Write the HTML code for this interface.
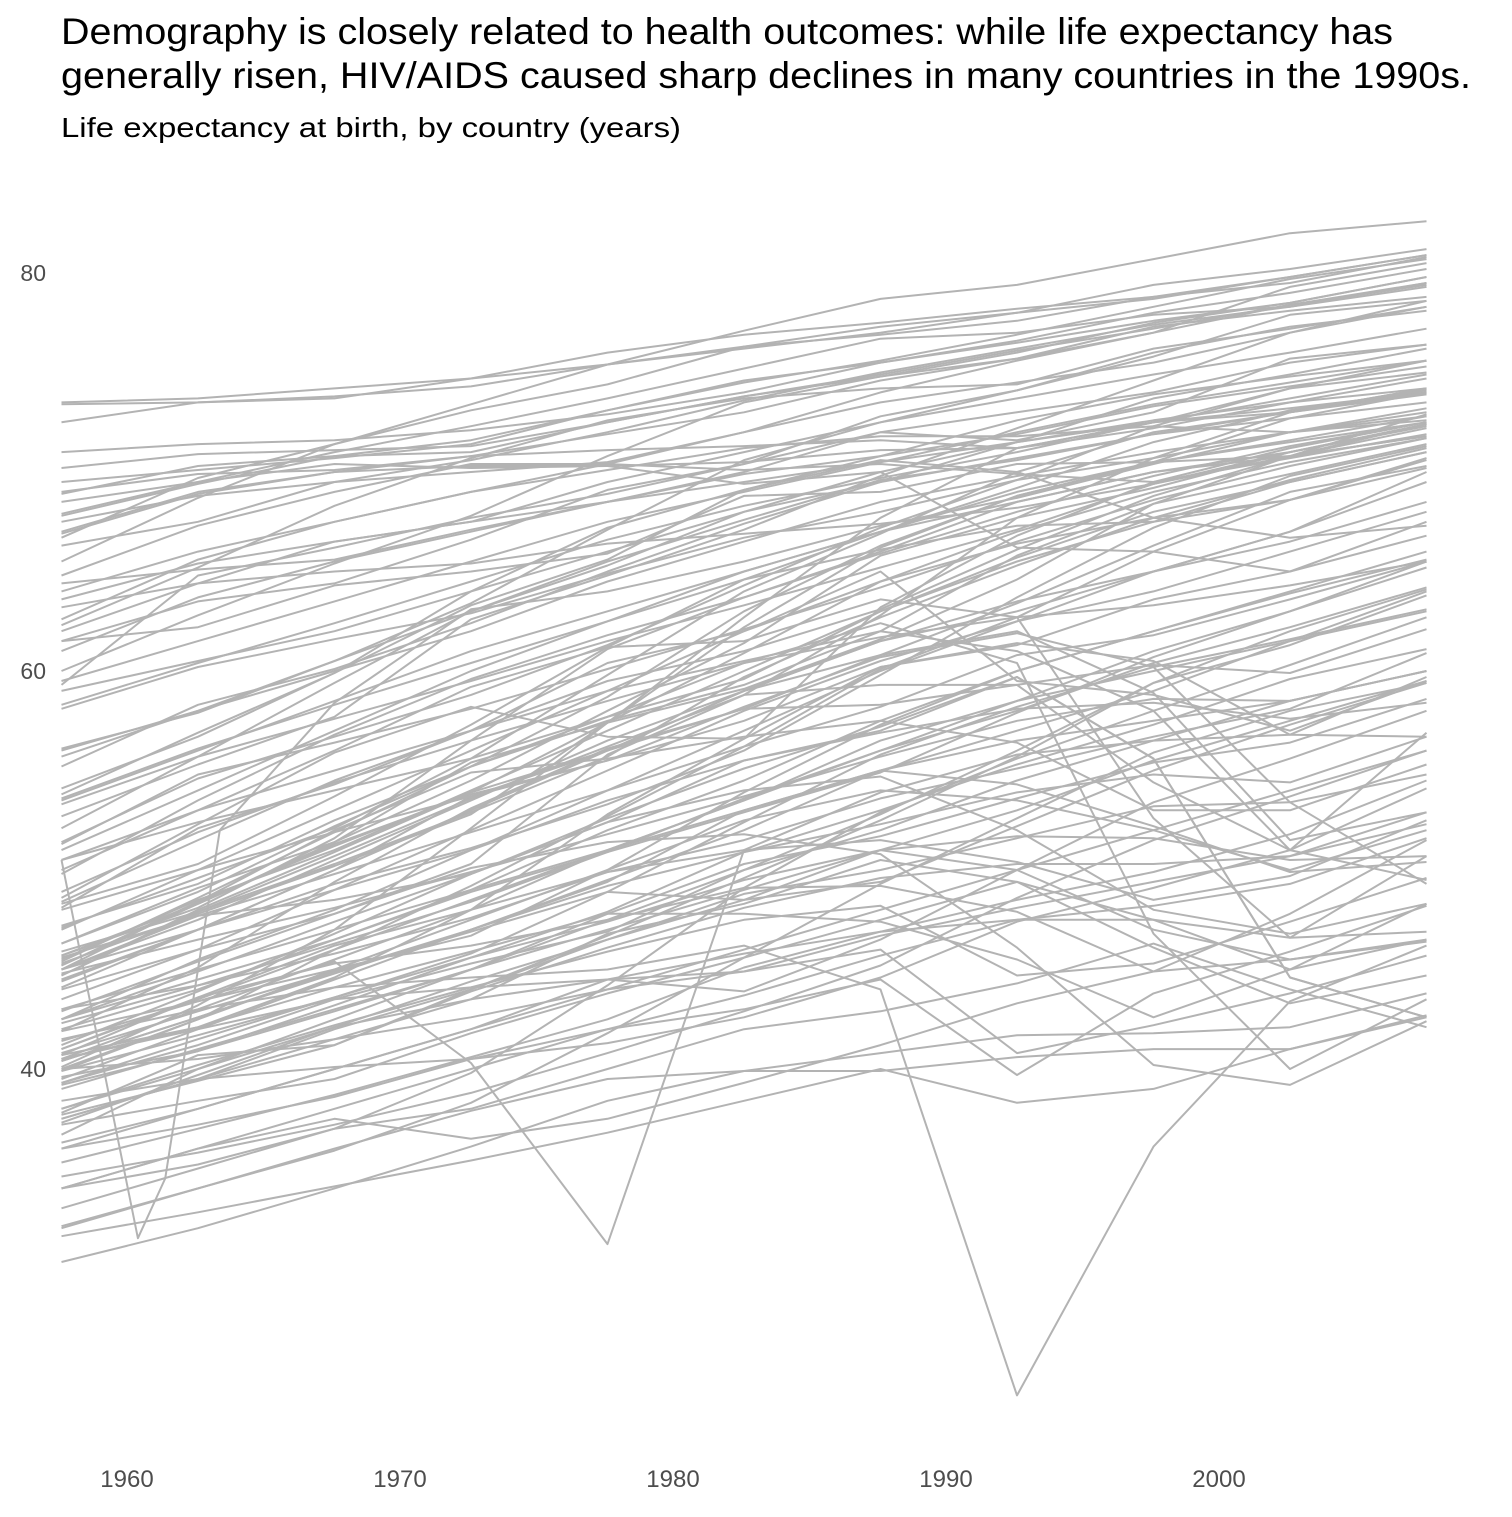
<!DOCTYPE html>
<html>
<head>
<meta charset="utf-8">
<style>
  html,body{margin:0;padding:0;background:#fff;}
  body{width:1512px;height:1512px;overflow:hidden;font-family:"Liberation Sans",Arial,sans-serif;}
  svg text{font-family:"Liberation Sans",Arial,sans-serif;}
</style>
</head>
<body>
<svg id="chart" width="1512" height="1512" viewBox="0 0 1512 1512">
  <text x="61" y="44" font-size="37" textLength="1332" lengthAdjust="spacingAndGlyphs" fill="#000">Demography is closely related to health outcomes: while life expectancy has</text>
  <text x="61" y="88" font-size="37" textLength="1410" lengthAdjust="spacingAndGlyphs" fill="#000">generally risen, HIV/AIDS caused sharp declines in many countries in the 1990s.</text>
  <text x="61" y="137" font-size="28" textLength="620" lengthAdjust="spacingAndGlyphs" fill="#000">Life expectancy at birth, by country (years)</text>
  <g id="lines"></g>
  <g id="yaxis"></g>
  <g id="xaxis"></g>
</svg>
<script>
const years = [1957,1962,1967,1972,1977,1982,1987,1992,1997,2002,2007];
const chinaYears = [1957,1959.8,1960.8,1962.8,1967,1972,1977,1982,1987,1992,1997,2002,2007];
const chinaValues = [50.5,31.5,34.5,52,58.4,63.1,64,65.5,67.3,68.7,70.4,72,73];
const xTicks = [1960,1970,1980,1990,2000];
const yTicks = [40,60,80];
const lifeExp = [
[65.5,68.7,71.4,73.4,75.4,77.1,78.7,79.4,80.7,82,82.6],
[73.5,73.7,74.2,74.7,76,76.9,77.5,78.2,78.8,79.5,80.8],
[73.4,73.5,73.8,74.3,75.4,76.3,77.3,78,78.7,79.8,80.9],
[72.5,73.5,73.7,74.7,75.4,76.2,77,78,79.4,80.2,81.2],
[71,71.4,71.6,72.1,72.9,74,75.5,76.5,77.6,78.5,79.8],
[70.2,70.9,71.1,71.3,72.5,73.8,74.9,76.1,77.2,78.4,79.4],
[69.5,70.1,70.7,71.4,73.1,74.6,75.5,76.6,78,79,80.2],
[69,69.9,70.1,70.8,71.9,73,74.6,75.7,77,78.4,79.5],
[68.9,70.3,70.8,71,72.5,73.8,74.8,76,77.5,78.5,79.8],
[67.5,68.8,69.5,70,70.5,72,74,75.6,77,79.3,80.5],
[66.9,68.9,70,70.8,71.1,71.3,71.6,71.2,72.2,73.5,74.7],
[68.5,69.5,70.4,70.2,70.3,70.5,71.1,71.2,72.5,73.2,74],
[67,69,70,70.3,70.3,69.4,70,66.2,66,65,67.5],
[64.8,67.3,69,70.4,70.4,70.1,70.4,69.9,69.5,71.2,72.5],
[66.3,67.5,69.5,70.6,72,73.6,75,76.2,77.4,78.3,79.3],
[64,66,67.5,69,70.4,72,73.5,74.5,75.5,77,78.3],
[62,64.4,66.5,67.5,69.5,71,72.5,73.7,74.9,76,77.2],
[61,63.7,65.5,67,68.5,70,72,73,74,75.5,76.4],
[59.5,61.5,63.5,65.5,67.5,69,70.5,72,73.4,74.5,75.6],
[63.6,65.4,66.5,67.5,68.5,69.5,70.5,71.5,72.6,73.5,74.2],
[59,60.5,62,64,66,68,70,71.5,72.5,73,74],
[58.3,60.4,62.4,64.5,66.6,68.3,69.7,71,72.5,73.7,74.9],
[55.7,58,60.5,63,65.5,67.6,69.6,70.6,71.9,72.7,73.5],
[56,58,60,62,64.5,66.5,68.5,69.8,71,72,73.2],
[53.5,56,58.5,61,63,65,67,68.5,70,71,72.4],
[51,54,57,60,62.5,65,67,69,70.5,71.5,72.5],
[47,50,53,56,59,62,64.5,67,69,70.5,71.7],
[45.5,48.5,51,54,57,60,63,65.5,67.5,69.5,71],
[45,47.5,50.5,53.5,56.5,59,61.5,63,65,67,70],
[44.5,47,50,53,56,59,61.5,63.5,65,66.5,68.5],
[43.5,46,49,52,55,58,60.5,62.5,64,66,68],
[42.5,45.5,48,51,54,57,60,62.5,65,67,69.5],
[42,44,46.5,49,52,54.5,57.5,60,62,64,66],
[40.5,43,45.5,48,51,53.5,56.5,58.5,61,63,65.5],
[39.5,42,44.5,47,49.5,52,55,57,59,61.5,64],
[41,43.5,46,48.5,51,53.5,56,58.5,60,61.5,63],
[43,45,47,49,51,53,55,56.5,57.5,58.5,60],
[38,40,42.5,45,47.5,50,52,54.5,56.5,58.5,60],
[37.5,39.5,42,44,46.5,48.5,51,53,55.5,57.5,59.5],
[36,38,40,42,44,46,48,50,52,54,56],
[50.5,53,55,57,59,60.5,62,61,58,51,49.5],
[50,53,56,59.2,61.2,61.5,63.6,62.7,52.6,46.6,50.7],
[50.5,52.4,54,55.6,57.7,60.4,62.4,60.4,46.8,40,43.5],
[45,47,49,51,53.5,55.5,57,59.7,55.6,44.6,42.6],
[45,47.7,48.5,49.8,52.6,55.1,57.2,59.7,55.6,44.6,42.6],
[44,46,47.8,50.1,51.4,51.8,50.8,46.1,40.2,39.2,42.4],
[39,41,43,45,47,49,51,50,47,45.5,46.5],
[40,42.5,45,47.5,50,52.5,54,53.5,52,50,52],
[44.7,47.9,50.7,53.6,56.2,58.8,59.3,59.3,54.4,51,54.1],
[41,43.6,45.3,46.2,47.5,49.1,49.2,47.9,44.9,47.8,51.5],
[37.2,38.4,39.5,41.8,43.8,45.6,47.5,49.4,47.5,45,48.3],
[33,35,37,38,40,42,42.9,44.3,46.3,44,42.1],
[32,34,36,37.9,39.5,39.9,39.9,40.6,41,41,42.7],
[31.6,32.8,34.1,35.4,36.8,38.4,40,38.3,39,41,42.6],
[30.3,32,34,36.1,38.4,39.9,40.8,41.7,41.8,42.1,43.8],
[41.5,43,44.1,44.6,45,46.2,44,23.6,36.1,43.4,46.2],
[41.4,43.4,45.4,40.3,31.2,51,53.9,55.8,56.5,56.8,59.7],
[34,36,37.5,36.5,37.5,39.3,41.2,43.3,44.9,45.5,46.4],
[40,40.5,41.5,42.6,44,44.9,46,40.8,42.2,43.8,45.7],
[34,36,38,40,42,43,44.5,39.7,43.8,45.9,48.2],
[36.7,40,42.1,43.5,44.5,44.9,46.7,48.1,49.4,50.7,52.9],
[36.3,38,40,42,44.5,45.8,46.9,47.5,47.5,46.6,46.9],
[40.7,42.1,44.1,45.9,47.8,47.8,47.4,45.5,42.6,45,46.5],
[42.5,44.9,47.4,49.8,52.4,54,54.7,52,48,46.8,48.3],
[40.4,42.6,44.8,47,49.4,53,55,54.3,52.2,49.9,50.4],
[37.5,39.5,41.5,43.5,46.8,48.3,50.5,49.4,46.1,43.3,44.7],
[45.2,48.4,51.2,53.9,56,59,60.8,62,58.9,51.5,52.9],
[44.8,46.5,48.1,49.9,51.8,53.7,55.7,57.5,58.6,58.5,60],
[40.5,42.1,44.6,48,52.8,56.6,60.2,61.4,60.5,56.8,56.7],
[45,48.4,52,54.9,55.6,56.7,57.5,56.4,53,53,55.3],
[39.9,41.7,43.6,45.6,47.4,49.5,51,51.7,51.6,50.5,50.7],
[36,37.2,38.6,40.5,42,43.7,45.7,47.5,48.2,49.3,51.6],
[48.4,51.5,54.5,57,60.4,62,65,59.5,58.8,57,59.5],
[40.7,43.6,46.2,48,49.9,51.5,53.6,55.1,56.7,58.1,60.9],
[34,35.2,37,39.8,44.2,49.1,52.9,55.6,58,60.3,62.7],
[39.3,41.2,43.5,45.3,46.9,50,52.8,56,59.4,62,64.1],
[45.6,47.7,49.8,51.9,54,56.2,58.2,60.8,61.8,63.6,65.5],
[41.9,43.4,45,46.7,50,53.9,57.3,60,62,63.9,65.6],
[39.6,40.9,42.9,45,47.8,50.3,51.7,53.6,55.4,56.4,58.6],
[54.1,56.7,59.9,64,67.2,69.1,70.6,70,67.7,66.7,67.3],
[45.2,48.3,51.3,53.8,55.5,57.5,60.2,61.3,63.6,65,66.8],
[40.8,42.9,44.9,46.9,48.9,48.5,49.4,52.2,55,57.3,59.4],
[43,44.2,45.8,47.6,49.9,51,51.5,50.4,48.5,49.7,52.5],
[35.3,37,38.7,40.6,42.5,45.1,46.9,48.5,49.9,51.8,54.5],
[38.4,39.5,40.1,40.5,41.3,42.6,44.6,47.4,49.1,51,56.9],
[37.8,40.7,41.2,43.9,46.1,48.1,49.6,50.3,50.3,50.7,52.3],
[39.3,41.5,43.6,45.8,48.9,52.4,55.8,58.2,60.2,61.6,63.1],
[44.4,47,49.3,51.1,53.3,56,59.8,63.7,67.2,69.8,71.3],
[45.9,47.9,50.3,52.9,55.7,59.7,62.7,65.3,67.7,69.6,71.2],
[39.9,42.5,46,49.2,52.7,56.2,60.1,62.7,66,68.6,70.7],
[42.9,45.4,47.8,50.3,55.8,58.8,62.8,67.7,70.7,73,74.2],
[48.1,52.1,54.3,57,59.5,61,63.1,66.1,68.8,70.8,71.8],
[53.3,55.7,57.6,59.5,61.5,63.3,65.2,67.1,69.4,71,72.4],
[55.2,58.3,60.1,62.4,65,67.4,69.5,71.5,73.7,74.9,76.2],
[46.3,49.1,51.4,55.4,57.4,59.1,61.6,64.6,68.4,69.9,71.4],
[44.1,47,50,53.7,56,58.1,60.8,63.4,66.3,69,70.3],
[45.4,48.6,51.9,55.2,57.5,59.3,62,65.8,68.4,70.8,72.9],
[44.7,48,50.9,53.9,57.4,60.9,64.5,66.4,67.7,68.6,70.2],
[47.2,49.3,52.5,55.2,57.7,59.6,63,65.7,68,69.5,71],
[46.3,48.9,52.2,55.2,58.7,63,66.3,68.8,70.5,71.6,72.8],
[52.7,55.3,57.7,62.6,64.8,67.1,69.8,72.2,74.6,77,78.6],
[53.6,56.1,58.3,60.4,62.5,64.6,66.1,67.3,67.5,68.6,70.6],
[51.3,54.8,56.4,58.1,60.1,62.1,64.2,66.5,68.6,70.3,71.7],
[52.1,55.7,59.4,63,65.3,68,69.5,70.7,71.9,73,74.2],
[56.1,57.9,60.5,63.4,67.1,70.6,72.5,74.1,75.8,77.9,78.6],
[62.6,65.6,67.5,69,70.1,71.2,71.8,71.8,72.3,72,72.6],
[59.3,64.8,66.2,67.7,68.9,70.4,72,71.6,73,75.7,76.4],
[61.5,62.2,64.3,65,65.9,68.8,69,70.4,70.5,70.8,72.4],
[64.4,65.1,65.6,67.1,68.5,69.9,70.8,71.9,73.3,74.3,75.3],
[67.8,69.4,70.8,71.6,73.1,74.5,75.6,76.9,78.3,79.7,80.7],
[62.3,65.2,68.3,70.7,72.6,73.7,74.2,74.4,76.2,77.2,78.3],
[60,62.8,65.4,67.8,70.8,73.5,74.8,75.7,77.3,78.1,78.8],
[61.5,63.5,64.4,66.6,69.1,70.4,72.8,74.1,76,77.3,78.1],
[66.7,69.7,71.4,73.1,74.4,76.3,76.9,77.6,78.8,79.8,80.9],
[67.9,69.5,71,72.3,73.7,75.2,76.7,77,77.9,78.3,79.5],
[53.8,56.9,59.9,63.3,65.6,69.1,70.8,72.6,73.9,74.8,75.6],
[58.1,60.2,61.6,62.9,64.9,66.7,68,69.6,70.7,72,72.8],
[47.1,49.6,52.1,55.6,59.8,64,66.9,70,72,73,73.9],
[45.7,48.3,51.4,54.5,58,61.4,65.8,67.7,69.2,71,72.3],
[48,50,51.9,53.7,55.5,58.2,60.7,61.9,60.2,53.4,49.3],
[37.7,39.4,41.2,44,46.7,49.6,52.5,55.7,59.4,61.3,63.8],
[41.9,45.1,49.4,53.1,56.1,58.1,58.3,59.3,60.3,59.9,62.1],
[39.2,40.9,43.2,45.6,47.9,50.9,53,55.3,57.3,59.6,61.1],
[32.1,34,35.9,38.3,41.8,45.6,49.3,52.6,55.9,58,59.4],
[34.6,35.8,37.2,38.8,40.8,42.9,45.2,48.6,51.5,53.7,56],
[42.3,44.2,46.3,48.4,50.9,53.6,56,58,60.4,62.2,64.2],
[37.3,39.7,42.1,44.4,46.5,48.8,50,51.6,53.2,53.4,54.8],
[38,40.2,42.2,44.1,44.5,43.9,46.5,50,53.4,55.6,58],
[40.5,42,43.5,44.1,45.9,47.5,48.2,44.7,45.3,47.4,49.6],
[40.4,42.6,44.9,47,49.2,50.9,52.3,53.9,54.8,54.4,56.7],
[41.2,43.9,46.8,49.8,52.4,55.5,56.9,58.1,58.4,57.6,58.4],
[42.5,44.5,46.5,48.9,50.9,52.9,54.9,57.9,60.7,63,65.2],
[48.9,51.9,54.4,56.5,58.5,60.4,61.7,62.7,63.3,64.3,65.5],
[45.3,47.8,50.2,52.8,57.4,62.2,66.2,68.8,70.5,72.7,74],
[40.1,43.2,47,52.1,57.4,62.7,67.7,71.2,72.5,74.2,75.6],
[45.7,48.1,51.6,56.5,61.1,63.7,65.9,68,69.8,71.3,72.5],
[48.3,50.3,53.7,57.3,61.2,64.6,67,69.2,71.5,73.1,74.1],
[48.6,52.3,55.9,58.2,56.7,56.6,63.2,66.8,69.5,70.7,71.9],
[49.8,53.5,56.8,59.6,61.8,63.7,66,68.5,70,70.8,72.2],
[51.4,54.6,56.7,58.8,61.3,64.3,67.2,69.6,72.3,74.2,75],
[63.2,64.4,65,65.4,66.4,66.9,67.4,68.2,69.4,70.8,71.8]
];

const NS = "http://www.w3.org/2000/svg";
function xScale(year){ return 127 + (year + 0.6 - 1960) * 27.3; }
function xTickScale(t){ return 127 + (t - 1960) * 27.3; }
function yScale(v){ return 671 - (v - 60) * 19.9; }

const gLines = document.getElementById('lines');
function drawLine(xs, vs){
  const p = document.createElementNS(NS, 'polyline');
  p.setAttribute('points', vs.map((v,i)=>xScale(xs[i]).toFixed(1)+','+yScale(v).toFixed(1)).join(' '));
  p.setAttribute('fill','none');
  p.setAttribute('stroke','#b3b3b3');
  p.setAttribute('stroke-width','2');
  p.setAttribute('stroke-linejoin','round');
  
  
  gLines.appendChild(p);
}
lifeExp.forEach(vs=>drawLine(years, vs));
drawLine(chinaYears, chinaValues);

const gy = document.getElementById('yaxis');
yTicks.forEach(t=>{
  const tx = document.createElementNS(NS,'text');
  tx.setAttribute('x', 46);
  tx.setAttribute('y', yScale(t) + 8);
  tx.setAttribute('text-anchor','end');
  tx.setAttribute('font-size','23');
  tx.setAttribute('fill','#4d4d4d');
  tx.textContent = t;
  
  
  gy.appendChild(tx);
});
const gx = document.getElementById('xaxis');
xTicks.forEach(t=>{
  const tx = document.createElementNS(NS,'text');
  tx.setAttribute('x', xTickScale(t));
  tx.setAttribute('y', 1487);
  tx.setAttribute('text-anchor','middle');
  tx.setAttribute('font-size','24');
  tx.setAttribute('fill','#4d4d4d');
  tx.textContent = t;
  
  
  gx.appendChild(tx);
});
</script>
</body>
</html>
